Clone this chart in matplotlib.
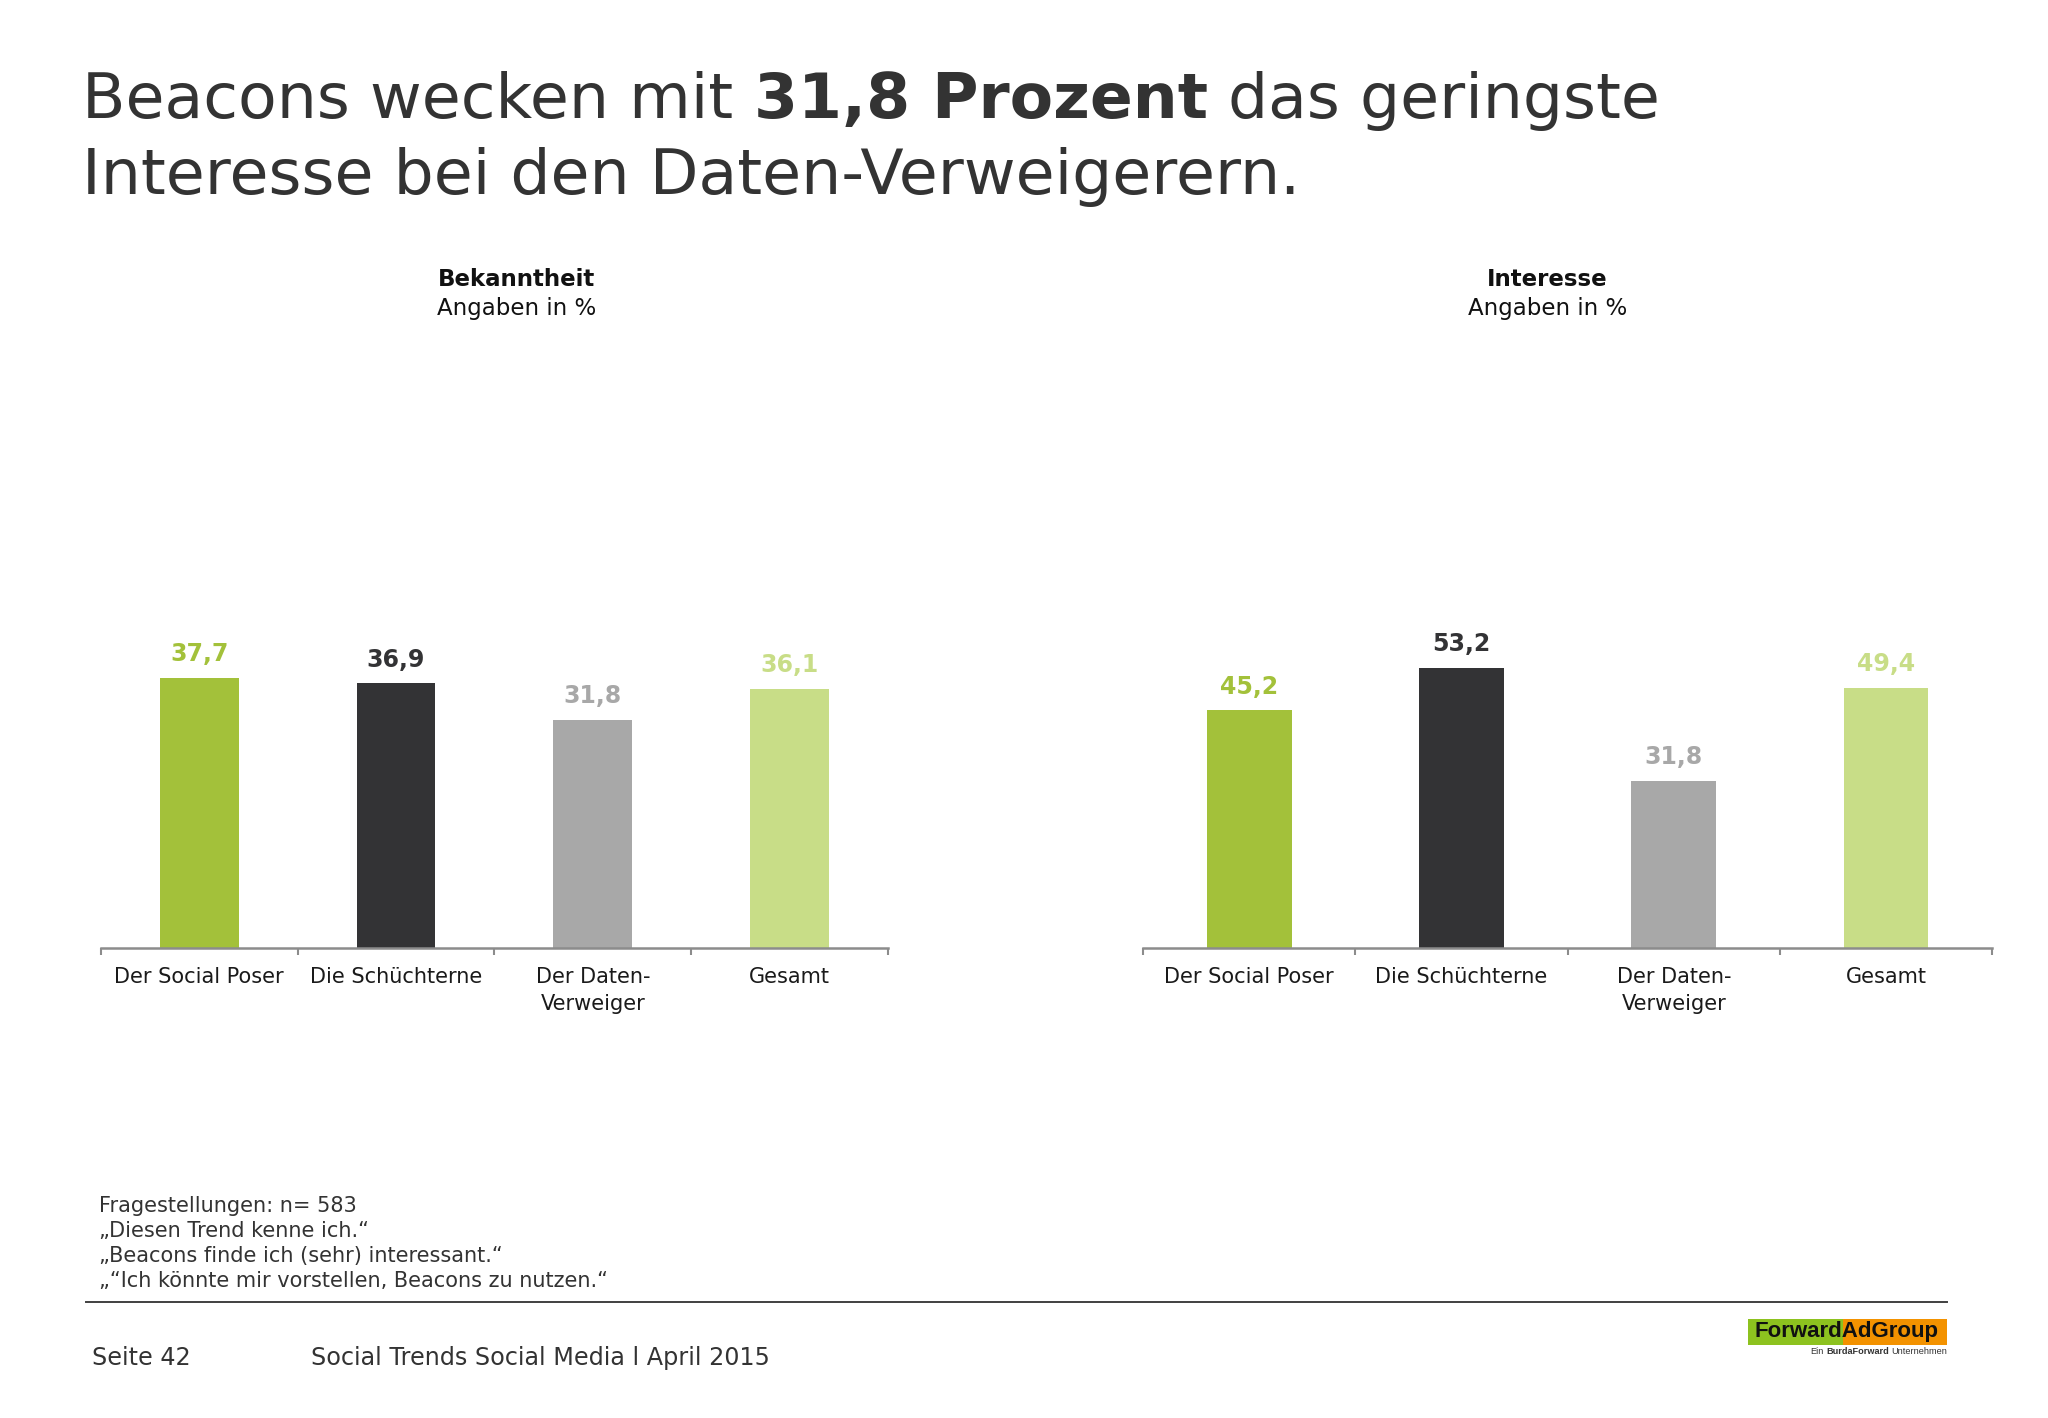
import matplotlib
matplotlib.use('Agg')
import matplotlib.pyplot as plt
from matplotlib.patches import Rectangle

# Daten
categories = ['Der Social Poser', 'Die Schüchterne', 'Der Daten-\nVerweiger', 'Gesamt']
bekanntheit = [37.7, 36.9, 31.8, 36.1]
interesse = [45.2, 53.2, 31.8, 49.4]
bar_colors = ['#A3C13A', '#333335', '#A8A8A8', '#C8DD87']

footnote_lines = [
    'Fragestellungen: n= 583',
    '„Diesen Trend kenne ich.“',
    '„Beacons finde ich (sehr) interessant.“',
    '„“Ich könnte mir vorstellen, Beacons zu nutzen.“',
]

plt.rcParams['font.family'] = ['DejaVu Sans']

fig = plt.figure(figsize=(20.48, 14.18), dpi=100)
renderer = fig.canvas.get_renderer()


def space_width(**kw):
    probe1 = fig.text(0, 0, 'a a', **kw)
    probe2 = fig.text(0, 0, 'aa', **kw)
    w = (probe1.get_window_extent(renderer).width
         - probe2.get_window_extent(renderer).width) / fig.bbox.width
    probe1.remove()
    probe2.remove()
    return w


def put_run(x, y, parts, **kw):
    # Text aus mehreren Stücken (normal / fett) hintereinander setzen
    space = space_width(**kw)
    for s, weight in parts:
        t = fig.text(x, y, s, fontweight=weight, **kw)
        x = t.get_window_extent(renderer).x1 / fig.bbox.width + space


def put_run_right(x, y, parts, **kw):
    # dasselbe, aber rechtsbündig (von rechts nach links)
    space = space_width(**kw)
    for s, weight in reversed(parts):
        t = fig.text(x, y, s, fontweight=weight, ha='right', **kw)
        x = t.get_window_extent(renderer).x0 / fig.bbox.width - space


# Titel
title_kw = dict(fontsize=45.5, color='#333333', va='baseline')
put_run(0.0402, 0.917, [('Beacons wecken mit', 'normal'),
                        ('31,8 Prozent', 'bold'),
                        ('das geringste', 'normal')], **title_kw)
fig.text(0.0402, 0.863, 'Interesse bei den Daten-Verweigerern.', **title_kw)


def draw_panel(rect, values, ymax, title, title_x):
    ax = fig.add_axes(rect)
    x = list(range(len(values)))
    bars = ax.bar(x, values, width=0.4, color=bar_colors)
    for b, v, c in zip(bars, values, bar_colors):
        ax.annotate(f'{v:.1f}'.replace('.', ','),
                    (b.get_x() + b.get_width() / 2, v),
                    xytext=(0, 12), textcoords='offset points',
                    ha='center', va='baseline', fontsize=17,
                    fontweight='bold', color=c)
    ax.set_xlim(-0.5, 3.5)
    ax.set_ylim(0, ymax)
    for side in ['top', 'right', 'left']:
        ax.spines[side].set_visible(False)
    ax.spines['bottom'].set_color('#8C8C8C')
    ax.spines['bottom'].set_linewidth(1.8)
    ax.set_yticks([])
    ax.set_xticks(x)
    ax.set_xticklabels(categories, fontsize=15, color='#1A1A1A', linespacing=1.4)
    ax.tick_params(axis='x', which='major', length=0, pad=14)
    ax.set_xticks([i - 0.5 for i in range(len(values) + 1)], minor=True)
    ax.tick_params(axis='x', which='minor', length=5, width=1.5,
                   color='#8C8C8C', direction='out')
    ax.patch.set_visible(False)

    fig.text(title_x, 0.798, title, ha='center', va='baseline',
             fontsize=16.5, fontweight='bold', color='#111111')
    fig.text(title_x, 0.778, 'Angaben in %', ha='center', va='baseline',
             fontsize=16.5, color='#111111')
    return ax


draw_panel([0.0492, 0.3315, 0.3844, 0.457], bekanntheit, 90.4, 'Bekanntheit', 0.2524)
draw_panel([0.5582, 0.3315, 0.4145, 0.457], interesse, 123.2, 'Interesse', 0.7555)

# Fußnote
foot_y = [0.1455, 0.1279, 0.1098, 0.0922]
for line, y in zip(footnote_lines, foot_y):
    fig.text(0.0484, y, line, fontsize=15, color='#333333', va='baseline')

fig.add_artist(plt.Line2D([0.042, 0.9507], [0.0818, 0.0818],
                          transform=fig.transFigure, color='#404040', lw=1.4))

fig.text(0.0449, 0.0374, 'Seite 42', fontsize=17.2, color='#333333', va='baseline')
fig.text(0.1518, 0.0374, 'Social Trends Social Media l April 2015', fontsize=17.2,
         color='#333333', va='baseline')

# Logo
fig.add_artist(Rectangle((0.8535, 0.0515), 0.0464, 0.0183,
                         transform=fig.transFigure, color='#8DC21F', lw=0))
fig.add_artist(Rectangle((0.8999, 0.0515), 0.0508, 0.0183,
                         transform=fig.transFigure, color='#F39200', lw=0))
fig.text(0.9018, 0.0607, 'ForwardAdGroup', family='Liberation Sans',
         fontweight='bold', fontsize=16, color='#111111',
         ha='center', va='center')
put_run_right(0.9507, 0.0451, [('Ein', 'normal'), ('BurdaForward', 'bold'),
                               ('Unternehmen', 'normal')],
              family='Liberation Sans', fontsize=6.6, color='#333333',
              va='baseline')

fig.savefig('out.png', dpi=100, facecolor='white')
